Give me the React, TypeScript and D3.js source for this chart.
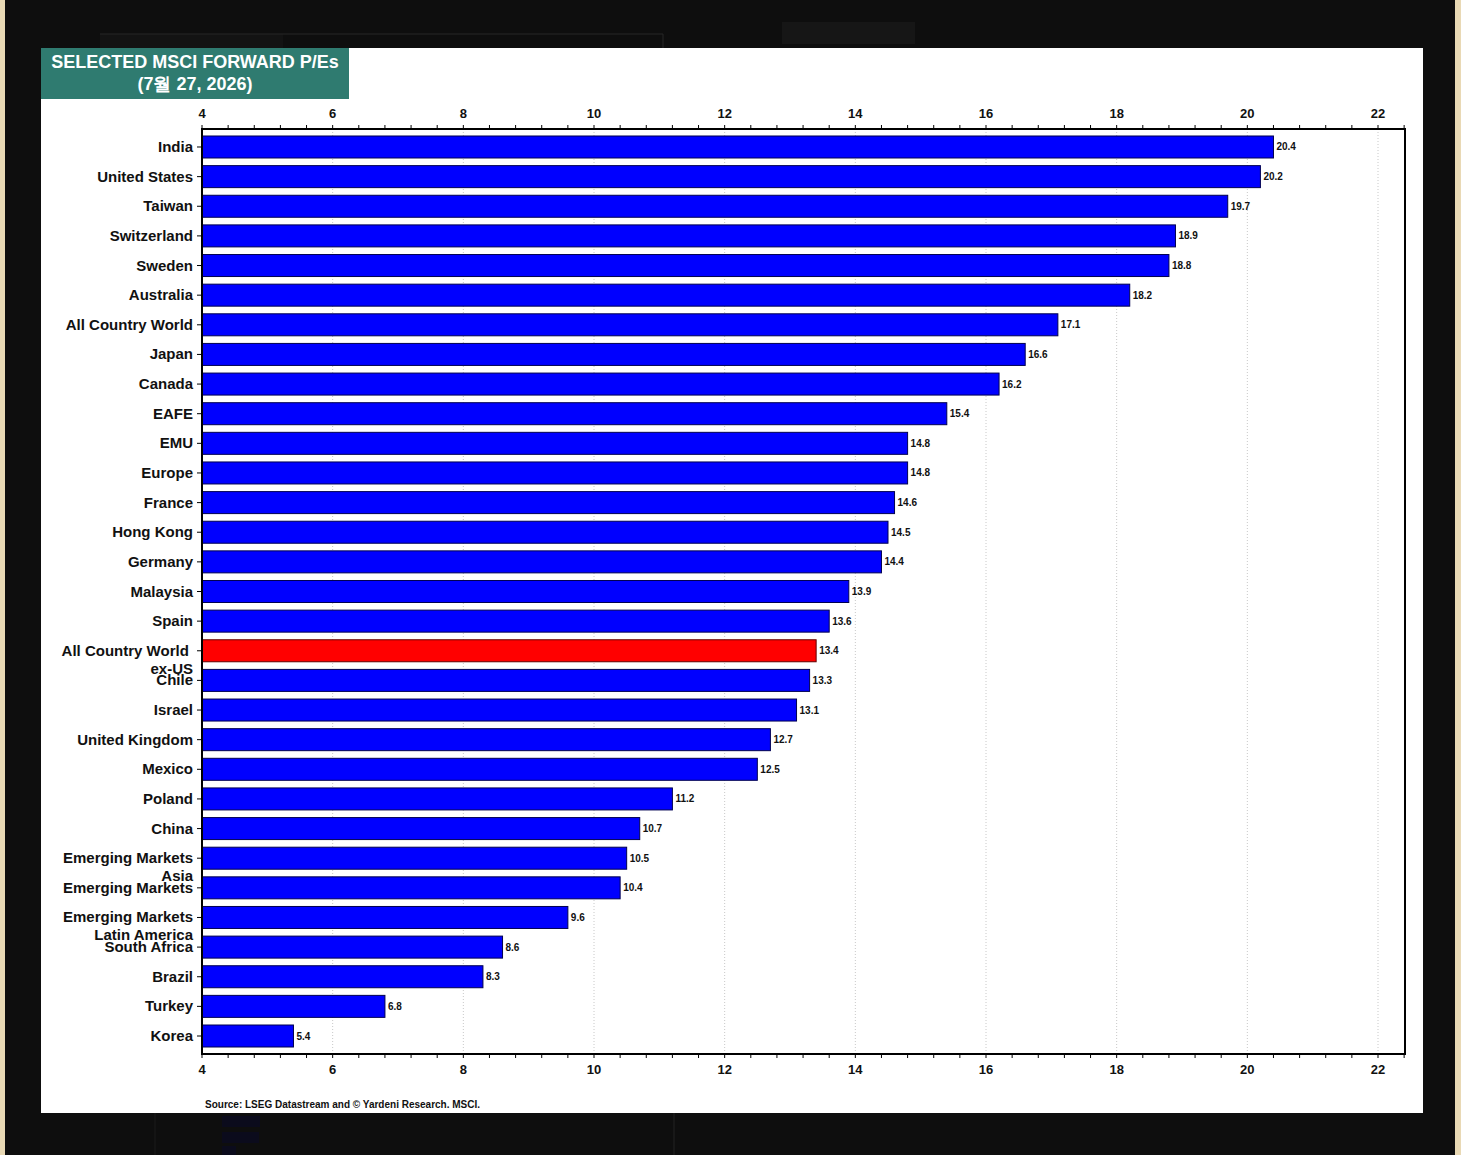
import React, { useRef, useEffect } from "react";
import * as d3 from "d3";

// categories top to bottom, "\n" splits a two-line label
const countries = [
  "India",
  "United States",
  "Taiwan",
  "Switzerland",
  "Sweden",
  "Australia",
  "All Country World",
  "Japan",
  "Canada",
  "EAFE",
  "EMU",
  "Europe",
  "France",
  "Hong Kong",
  "Germany",
  "Malaysia",
  "Spain",
  "All Country World \nex-US",
  "Chile",
  "Israel",
  "United Kingdom",
  "Mexico",
  "Poland",
  "China",
  "Emerging Markets\nAsia",
  "Emerging Markets",
  "Emerging Markets\nLatin America",
  "South Africa",
  "Brazil",
  "Turkey",
  "Korea",
];
const forwardPE = [
  20.4, 20.2, 19.7, 18.9, 18.8, 18.2, 17.1, 16.6, 16.2, 15.4, 14.8, 14.8, 14.6,
  14.5, 14.4, 13.9, 13.6, 13.4, 13.3, 13.1, 12.7, 12.5, 11.2, 10.7, 10.5, 10.4,
  9.6, 8.6, 8.3, 6.8, 5.4,
];
const highlighted = ["All Country World \nex-US"];
const xTicks = [4, 6, 8, 10, 12, 14, 16, 18, 20, 22];
const titleLines = ["SELECTED MSCI FORWARD P/Es", "(7월 27, 2026)"];
const sourceNote = "Source: LSEG Datastream and © Yardeni Research. MSCI.";

export default function App() {
  const ref = useRef<SVGSVGElement>(null);

  useEffect(() => {
    if (!ref.current) return;
    const svg = d3.select(ref.current);
    svg.selectAll("*").remove();

    const W = 1461;
    const H = 1155;
    const font = "'Liberation Sans', Arial, sans-serif";

    // backdrop: beige edges, black page, white panel
    svg.append("rect").attr("width", W).attr("height", H).attr("fill", "#e9d9b5");
    svg.append("rect").attr("x", 5).attr("width", 1450).attr("height", H).attr("fill", "#0e0e0e");

    // faint remnants of a page behind
    const ghost = svg.append("g");
    ghost.append("rect").attr("x", 100).attr("y", 34).attr("width", 183).attr("height", 14).attr("fill", "#131313");
    ghost.append("line").attr("x1", 100).attr("x2", 663).attr("y1", 34).attr("y2", 34).attr("stroke", "#262626");
    ghost.append("line").attr("x1", 663).attr("x2", 663).attr("y1", 34).attr("y2", 48).attr("stroke", "#262626");
    ghost.append("rect").attr("x", 782).attr("y", 22).attr("width", 133).attr("height", 22).attr("fill", "#161616");
    ghost.append("line").attr("x1", 674).attr("x2", 674).attr("y1", 1113).attr("y2", H).attr("stroke", "#222");
    ghost.append("line").attr("x1", 155).attr("x2", 155).attr("y1", 1113).attr("y2", H).attr("stroke", "#1a1a1a");
    [1122, 1138, 1152].forEach((yy, i) => {
      ghost
        .append("rect")
        .attr("x", 222)
        .attr("y", yy - 6)
        .attr("width", [38, 37, 14][i])
        .attr("height", 11)
        .attr("fill", "#0b0b1c");
    });

    svg.append("rect").attr("x", 41).attr("y", 48).attr("width", 1382).attr("height", 1065).attr("fill", "#ffffff");

    // title box
    svg.append("rect").attr("x", 41).attr("y", 48).attr("width", 308).attr("height", 51).attr("fill", "#2f7b70");
    svg
      .append("text")
      .attr("text-anchor", "middle")
      .attr("font-family", font)
      .attr("font-weight", "bold")
      .attr("font-size", 18)
      .attr("fill", "#ffffff")
      .selectAll("tspan")
      .data(titleLines)
      .join("tspan")
      .attr("x", 195)
      .attr("y", (_, i) => 68 + i * 22)
      .text((d) => d);

    // plot frame
    const left = 202;
    const right = 1405;
    const top = 129;
    const bottom = 1054;

    const x = d3
      .scaleLinear()
      .domain([4, 22])
      .range([left, 1378]);
    const y = d3
      .scaleBand<string>()
      .domain(countries)
      .range([top, bottom])
      .paddingInner(0.2575)
      .paddingOuter(0.236);

    // dotted grid
    svg
      .append("g")
      .selectAll("line")
      .data(xTicks.slice(1))
      .join("line")
      .attr("x1", (d) => x(d))
      .attr("x2", (d) => x(d))
      .attr("y1", top)
      .attr("y2", bottom)
      .attr("stroke", "#c8c8c8")
      .attr("stroke-width", 1)
      .attr("stroke-dasharray", "1,2");

    // bars
    const data = countries.map((c, i) => ({ name: c, value: forwardPE[i] }));
    svg
      .append("g")
      .selectAll("rect")
      .data(data)
      .join("rect")
      .attr("x", left)
      .attr("y", (d) => y(d.name)!)
      .attr("width", (d) => x(d.value) - left)
      .attr("height", y.bandwidth())
      .attr("fill", (d) => (highlighted.includes(d.name) ? "#ff0000" : "#0000ff"))
      .attr("stroke", (d) => (highlighted.includes(d.name) ? "#600000" : "#000050"))
      .attr("stroke-width", 1);

    // value labels
    svg
      .append("g")
      .selectAll("text")
      .data(data)
      .join("text")
      .attr("x", (d) => x(d.value) + 3)
      .attr("y", (d) => y(d.name)! + y.bandwidth() / 2)
      .attr("dy", "0.35em")
      .attr("font-family", font)
      .attr("font-weight", "bold")
      .attr("font-size", 10)
      .attr("fill", "#111")
      .text((d) => d.value.toFixed(1));

    // frame lines
    svg
      .append("rect")
      .attr("x", left)
      .attr("y", top)
      .attr("width", right - left)
      .attr("height", bottom - top)
      .attr("fill", "none")
      .attr("stroke", "#000")
      .attr("stroke-width", 2);

    // x ticks top and bottom: majors every 2, minors every 0.4
    const minor = d3.range(4, 22.41, 0.4);
    [top, bottom].forEach((yy) => {
      const dir = yy === top ? -1 : 1;
      svg
        .append("g")
        .selectAll("line")
        .data(minor)
        .join("line")
        .attr("x1", (d) => x(d))
        .attr("x2", (d) => x(d))
        .attr("y1", yy)
        .attr("y2", yy + dir * 4)
        .attr("stroke", "#000")
        .attr("stroke-width", 1);
      svg
        .append("g")
        .selectAll("text")
        .data(xTicks)
        .join("text")
        .attr("x", (d) => x(d))
        .attr("y", yy === top ? 118 : 1074)
        .attr("text-anchor", "middle")
        .attr("font-family", font)
        .attr("font-weight", "bold")
        .attr("font-size", 13)
        .attr("fill", "#111")
        .text((d) => d);
    });

    // category ticks and labels
    svg
      .append("g")
      .selectAll("line")
      .data(countries)
      .join("line")
      .attr("x1", left - 5)
      .attr("x2", left)
      .attr("y1", (d) => y(d)! + y.bandwidth() / 2)
      .attr("y2", (d) => y(d)! + y.bandwidth() / 2)
      .attr("stroke", "#000");

    const labels = svg
      .append("g")
      .selectAll("text")
      .data(countries)
      .join("text")
      .attr("text-anchor", "end")
      .attr("font-family", font)
      .attr("font-weight", "bold")
      .attr("font-size", 15)
      .attr("fill", "#111")
      .style("white-space", "pre");
    labels
      .selectAll("tspan")
      .data((d) => d.split("\n").map((line, i) => ({ line, i, c: d })))
      .join("tspan")
      .attr("x", 193)
      .attr("y", (t) => y(t.c)! + y.bandwidth() / 2 + 5 + t.i * 18)
      .text((t) => t.line);

    // source
    svg
      .append("text")
      .attr("x", 205)
      .attr("y", 1108)
      .attr("font-family", font)
      .attr("font-weight", "bold")
      .attr("font-size", 10)
      .attr("fill", "#111")
      .text(sourceNote);
  }, []);

  return (
    <svg
      ref={ref}
      width={1461}
      height={1155}
      style={{ position: "absolute", left: 0, top: 0, display: "block" }}
    />
  );
}
